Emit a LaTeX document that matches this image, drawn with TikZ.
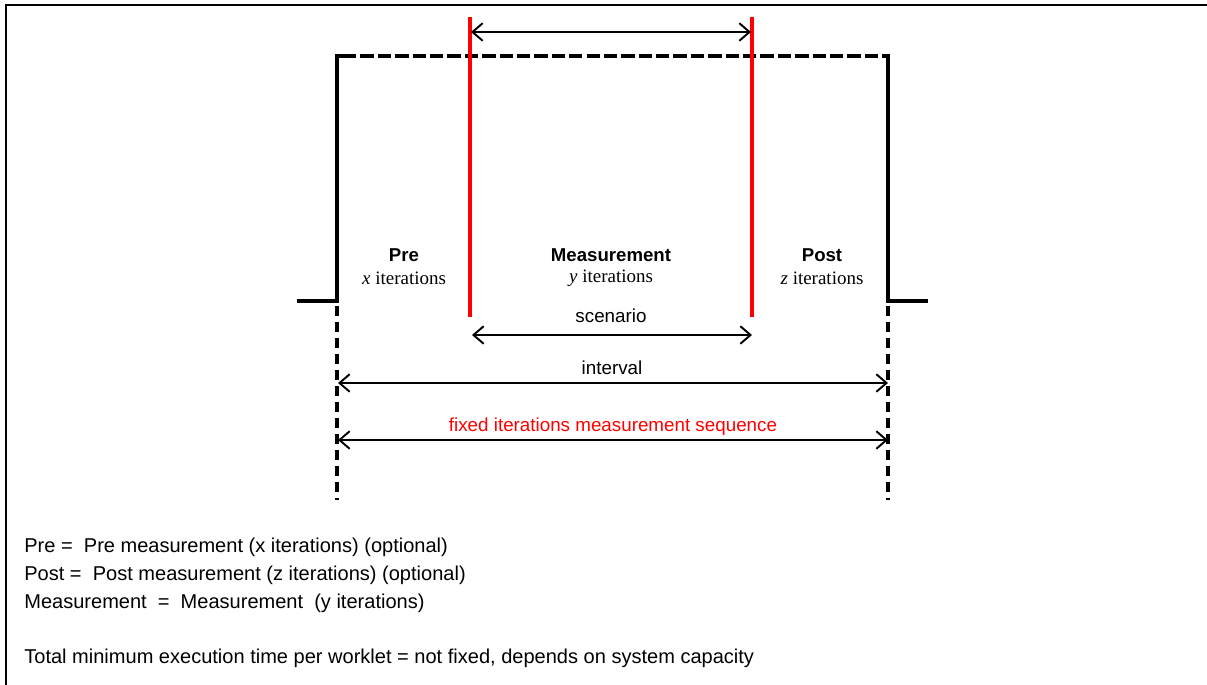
\documentclass[tikz,border=0pt]{standalone}
\usepackage{fontspec}
\setmainfont{Liberation Sans}
\newfontfamily\tnrfont{Liberation Serif}
\usetikzlibrary{arrows.meta}

\begin{document}
\begin{tikzpicture}[x=0.02cm,y=-0.02cm,
  frame/.style={line width=1pt},
  pulse/.style={line width=2.7pt},
  pulsedash/.style={line width=2.7pt, dash pattern=on 7.6pt off 2.3pt},
  guide/.style={line width=1.9pt, dash pattern=on 5.7pt off 3.4pt},
  marker/.style={red, line width=2pt},
  span/.style={line width=1.1pt, {Straight Barb[length=5.8pt,width=10pt]}-{Straight Barb[length=5.8pt,width=10pt]}},
  txt/.style={font=\fontsize{10.7}{13}\selectfont, inner sep=0pt},
  head/.style={txt, font=\fontsize{10.6}{13}\selectfont\bfseries},
  sub/.style={txt, font=\fontsize{10.8}{13}\selectfont\tnrfont},
  note/.style={txt, font=\fontsize{11.4}{14}\selectfont, anchor=west}]

\useasboundingbox (0,0) rectangle (1207,685);

% outer frame
\coordinate (fbl) at (6,685);
\coordinate (ftl) at (6,5);
\coordinate (ftr) at (1207,5);
\draw[frame] (fbl) -- (ftl) -- (ftr);

% pulse outline
\coordinate (lo) at (297,301);
\coordinate (pa) at (337,301);
\coordinate (pb) at (337,56);
\coordinate (pc) at (888,56);
\coordinate (pd) at (888,301);
\coordinate (ro) at (928,301);
\draw[pulse] (lo) -- (pa) -- (pb) -- ++(6,0);
\draw[pulsedash] ([xshift=6*0.02cm]pb) -- ([xshift=-2*0.02cm]pc);
\draw[pulse] ([xshift=-6*0.02cm]pc) -- (pc) -- (pd) -- (ro);

% dashed guides below the pulse
\coordinate (gla) at (337,306);
\coordinate (glb) at (337,500);
\coordinate (gra) at (888,306);
\coordinate (grb) at (888,500);
\draw[guide] (gla) -- (glb);
\draw[guide] (gra) -- (grb);

% measurement markers
\coordinate (m1t) at (470,17);
\coordinate (m1b) at (470,317);
\coordinate (m2t) at (752,17);
\coordinate (m2b) at (752,317);
\draw[marker] (m1t) -- (m1b);
\draw[marker] (m2t) -- (m2b);

% span arrows
\coordinate (t1) at (471,32);
\coordinate (t2) at (751,32);
\draw[span] (t1) -- (t2);
\coordinate (s1) at (472,335);
\coordinate (s2) at (752,335);
\draw[span] (s1) -- (s2);
\coordinate (i1) at (338,383);
\coordinate (i2) at (888,383);
\draw[span] (i1) -- (i2);
\coordinate (f1) at (338,440);
\coordinate (f2) at (888,440);
\draw[span] (f1) -- (f2);

% phase labels
\node[head] (pre) at (404,255) {Pre};
\node[sub] (prex) at (404,278) {{\itshape x} iterations};
\node[head] (meas) at (611,255) {Measurement};
\node[sub] (measy) at (611,278) {{\itshape y} iterations};
\node[head] (post) at (822,255) {Post};
\node[sub] (postz) at (822,278) {{\itshape z} iterations};

% span labels
\node[txt] (scen) at (611,316) {scenario};
\node[txt] (intv) at (612,368) {interval};
\node[txt, text=red] (fixed) at (613,427) {fixed iterations measurement sequence};

% legend
\node[note] (n1) at (24,547) {Pre = \ Pre measurement (x iterations) (optional)};
\node[note] (n2) at (24,575) {Post = \ Post measurement (z iterations) (optional)};
\node[note] (n3) at (24,603) {Measurement \ = \ Measurement \ (y iterations)};
\node[note] (n4) at (24,658) {Total minimum execution time per worklet = not fixed, depends on system capacity};
\end{tikzpicture}
\end{document}
